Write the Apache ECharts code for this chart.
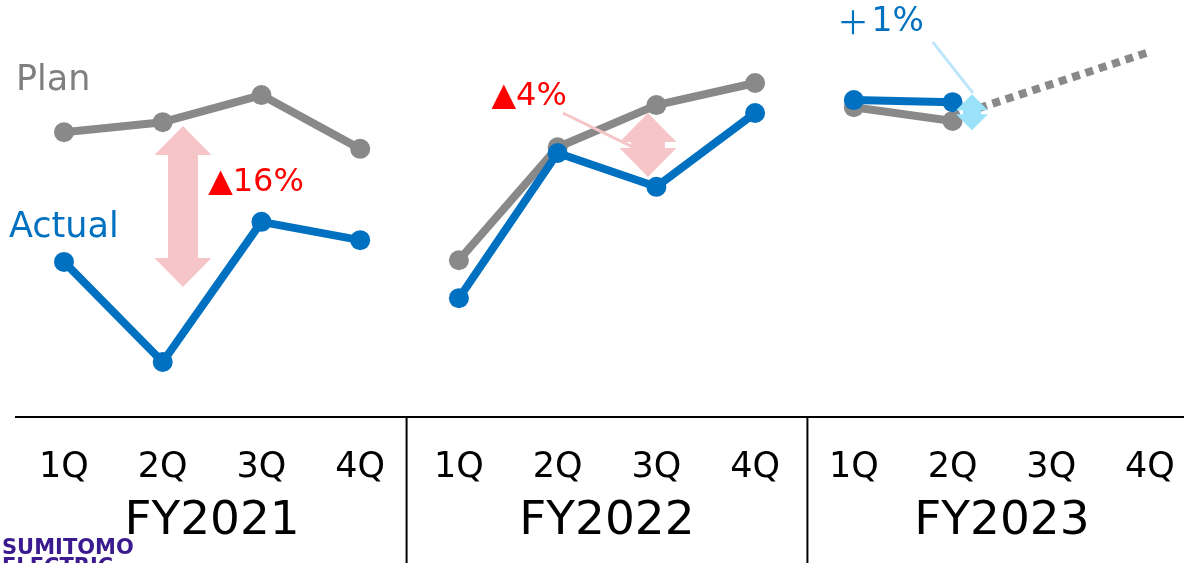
<!DOCTYPE html>
<html>
<head>
<meta charset="utf-8">
<script src="https://cdn.jsdelivr.net/npm/echarts@6/dist/echarts.min.js"></script>
<style>
  html, body { margin: 0; padding: 0; background: #fff; }
  #chart { width: 1184px; height: 563px; }
</style>
</head>
<body>
<div id="chart"></div>
<script>
// categories
var years = ['FY2021', 'FY2022', 'FY2023'];
var quarters = ['1Q', '2Q', '3Q', '4Q'];

// values (index)
var plan = [
  [68.3, 70.7, 77.2, 64.3],
  [37.6, 64.7, 74.8, 80.1],
  [74.3, 71.0]
];
var actual = [
  [37.2, 13.2, 46.8, 42.4],
  [28.5, 63.3, 55.2, 72.9],
  [76.0, 75.5]
];
// FY2023 outlook (dotted)
var outlook = [null, 72.0, null, 87.6];

var GRAY = '#898989';
var BLUE = '#0070C0';
var FONT = '"DejaVu Sans", Verdana, sans-serif';

var categories = [];
years.forEach(function (y) {
  quarters.forEach(function (q) { categories.push(y + ' ' + q); });
});

// place one year's values on the 12-slot axis
function pad(arr, yearIdx) {
  var out = [];
  for (var i = 0; i < 12; i++) out.push(null);
  arr.forEach(function (v, i) { out[yearIdx * 4 + i] = v; });
  return out;
}

var series = [];
plan.forEach(function (arr, i) {
  series.push({
    type: 'line', name: 'Plan', data: pad(arr, i), z: 2,
    symbol: 'circle', symbolSize: 20,
    lineStyle: { color: GRAY, width: 8 },
    itemStyle: { color: GRAY },
    emphasis: { disabled: true }
  });
});
series.push({
  type: 'line', name: 'Outlook', data: pad(outlook, 2), z: 1,
  connectNulls: true, symbol: 'none',
  lineStyle: { color: GRAY, width: 8, type: [8, 6] },
  emphasis: { disabled: true }
});
actual.forEach(function (arr, i) {
  series.push({
    type: 'line', name: 'Actual', data: pad(arr, i), z: 3,
    symbol: 'circle', symbolSize: 20,
    lineStyle: { color: BLUE, width: 8 },
    itemStyle: { color: BLUE },
    emphasis: { disabled: true }
  });
});

var chart = echarts.init(document.getElementById('chart'));
chart.setOption({
  animation: false,
  grid: { left: 64, right: 34, top: 0, bottom: 146 },
  xAxis: {
    type: 'category',
    data: categories,
    boundaryGap: false,
    axisLine: { show: false },
    axisTick: { show: false },
    axisLabel: {
      interval: 0, margin: 33, color: '#000', fontSize: 35, fontFamily: FONT,
      formatter: function (v) { return v.split(' ')[1]; }
    }
  },
  yAxis: { type: 'value', min: 0, max: 100, show: false },
  series: series
});

// annotations, anchored in data space
function px(idx, v) {
  var a = chart.convertToPixel({ gridIndex: 0 }, [0, v]);
  var b = chart.convertToPixel({ gridIndex: 0 }, [1, v]);
  return [a[0] + (b[0] - a[0]) * idx, a[1]];
}
function doubleArrow(c, halfH, headW, shaftW, headLen) {
  var x = c[0], y = c[1];
  return [
    [x, y - halfH], [x + headW, y - halfH + headLen], [x + shaftW, y - halfH + headLen],
    [x + shaftW, y + halfH - headLen], [x + headW, y + halfH - headLen], [x, y + halfH],
    [x - headW, y + halfH - headLen], [x - shaftW, y + halfH - headLen],
    [x - shaftW, y - halfH + headLen], [x - headW, y - halfH + headLen]
  ];
}
function label(text, p, color, size, extra) {
  var st = { text: text, x: p[0], y: p[1], verticalAlign: 'middle', fill: color, fontSize: size, fontFamily: FONT };
  for (var k in extra) st[k] = extra[k];
  return { type: 'text', z: 10, style: st };
}

var axisY = px(0, 0)[1];
var sep1 = px(3.47, 0)[0], sep2 = px(7.53, 0)[0];

var bigTop = px(1.205, 69.8), bigBot = px(1.205, 31.2);
var bigC = [bigTop[0], (bigTop[1] + bigBot[1]) / 2];
var bigHalf = (bigBot[1] - bigTop[1]) / 2;
var t16 = px(1.46, 56.1);
var t4 = px(4.33, 76.7);
var smallC = px(5.915, 65.2);
var pinkA = px(5.054, 72.9), pinkB = px(5.763, 64.7);
var blueC = px(9.197, 73.1);
var blueA = px(8.80, 89.9), blueB = px(9.207, 77.7);
var tPlus = px(7.83, 94.7), t1 = px(8.18, 94.7);

var graphics = [
  { type: 'line', z: 10, shape: { x1: 15, y1: axisY, x2: 1184, y2: axisY }, style: { stroke: '#000', lineWidth: 2 } },
  { type: 'line', z: 10, shape: { x1: sep1, y1: axisY, x2: sep1, y2: 563 }, style: { stroke: '#000', lineWidth: 2 } },
  { type: 'line', z: 10, shape: { x1: sep2, y1: axisY, x2: sep2, y2: 563 }, style: { stroke: '#000', lineWidth: 2 } },
  { type: 'polygon', z: 1, shape: { points: doubleArrow(bigC, bigHalf, 28.5, 15, 29) }, style: { fill: '#F6C5C8' } },
  { type: 'line', z: 10, shape: { x1: pinkA[0], y1: pinkA[1], x2: pinkB[0], y2: pinkB[1] }, style: { stroke: '#F6C5C8', lineWidth: 3 } },
  { type: 'polygon', z: 10, shape: { points: doubleArrow(smallC, 32, 28.5, 17, 29) }, style: { fill: '#F6C5C8' } },
  { type: 'line', z: 10, shape: { x1: blueA[0], y1: blueA[1], x2: blueB[0], y2: blueB[1] }, style: { stroke: '#BEE6FB', lineWidth: 3 } },
  { type: 'polygon', z: 10, shape: { points: doubleArrow(blueC, 18, 16, 9, 16) }, style: { fill: '#99E2FA' } },
  label('▲16%', t16, '#FF0000', 32),
  label('▲4%', t4, '#FF0000', 32),
  label('＋', tPlus, BLUE, 32, { fontFamily: '"Noto Sans CJK JP"' }),
  label('1%', t1, BLUE, 33),
  label('Plan', [16, 81], '#7F7F7F', 35),
  label('Actual', [9, 228], BLUE, 35),
  { type: 'text', z: 10, style: { text: 'SUMITOMO', x: 2, y: 538, fill: '#3A1A8E', fontSize: 21, fontWeight: 'bold', fontFamily: FONT } },
  { type: 'text', z: 10, style: { text: 'ELECTRIC', x: 2, y: 557, fill: '#3A1A8E', fontSize: 21, fontWeight: 'bold', fontFamily: FONT } }
];
// fiscal-year labels centred under each group of quarters
years.forEach(function (y, i) {
  var c = px(i * 4 + 1.5, 0);
  graphics.push(label(y, [c[0], c[1] + 105], '#000', 47, { align: 'center' }));
});

chart.setOption({ graphic: graphics });
</script>
</body>
</html>
